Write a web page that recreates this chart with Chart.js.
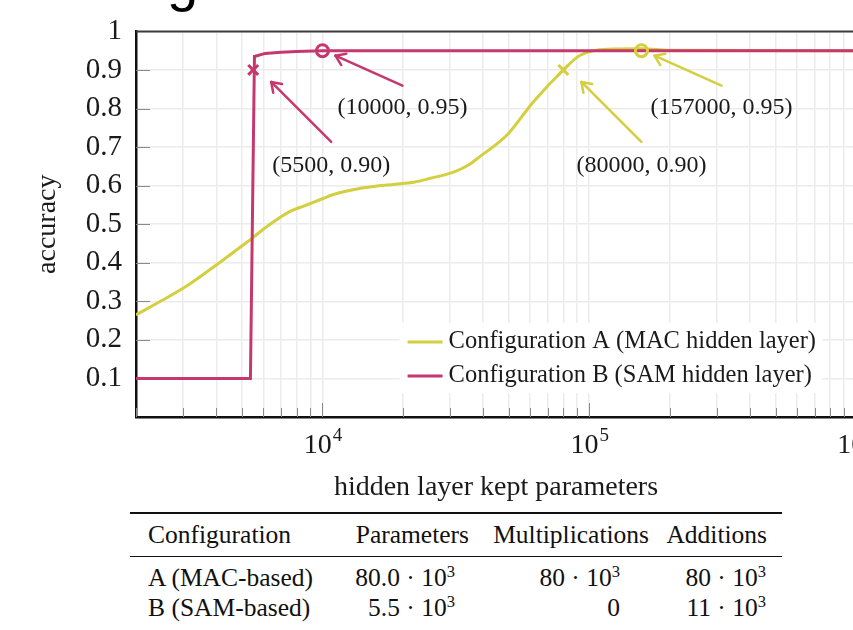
<!DOCTYPE html>
<html>
<head>
<meta charset="utf-8">
<script src="https://cdn.jsdelivr.net/npm/chart.js@4.4.1/dist/chart.umd.min.js"></script>
<style>
  html, body { margin: 0; padding: 0; background: #fff; overflow: hidden; width: 853px; height: 630px; }
  #cut { position: absolute; left: 167px; top: -47px; font: 56px/56px 'Liberation Sans', Arial, sans-serif; color: #000; }
  #box { position: absolute; left: 0; top: 0; width: 900px; height: 505px; }
  #tbl { position: absolute; left: 130px; top: 512px; width: 652px; border-collapse: collapse; table-layout: fixed;
         font-family: 'Liberation Serif', 'Times New Roman', serif; font-size: 25.5px; color: #111; }
  #tbl th { font-weight: normal; height: 42px; padding: 0; white-space: nowrap;
            border-top: 2.5px solid #111; border-bottom: 1px solid #111; }
  #tbl td { height: 30px; line-height: 30px; padding: 0; white-space: nowrap; vertical-align: bottom; }
  #tbl tbody tr:first-child td { height: 36px; }
  #tbl sup { font-size: 0.65em; line-height: 0; vertical-align: baseline; position: relative; top: -0.55em; }
  .c0 { text-align: left; padding-left: 18px !important; }
  th.c1 { text-align: right; padding-right: 6px !important; }
  td.c1 { text-align: right; padding-right: 20px !important; }
  th.c2 { text-align: right; padding-right: 6px !important; }
  td.c2 { text-align: right; padding-right: 35px !important; }
  th.c3 { text-align: right; padding-right: 15px !important; }
  td.c3 { text-align: right; padding-right: 16px !important; }
</style>
</head>
<body>
<div id="cut">g</div>
<div id="box"><canvas id="accChart"></canvas></div>
<table id="tbl">
  <colgroup><col style="width:205px"><col style="width:140px"><col style="width:180px"><col style="width:127px"></colgroup>
  <thead><tr id="thead"></tr></thead>
  <tbody id="tbody"></tbody>
</table>
<script>
// data
const xA = [2000, 2500, 3150, 4050, 5000, 5500, 6000, 7500, 8500, 10000, 11000, 13900, 19600, 22000, 25400, 31000, 35000, 39000, 49300, 61700, 80000, 92500, 116700, 157000, 200000, 1000000];
const yA = [0.265, 0.302, 0.343, 0.397, 0.444, 0.466, 0.487, 0.532, 0.547, 0.566, 0.577, 0.593, 0.605, 0.609, 0.619, 0.635, 0.652, 0.676, 0.732, 0.817, 0.900, 0.938, 0.954, 0.955, 0.951, 0.950];
const xB = [2000, 5370, 5560, 6100, 7000, 8000, 10000, 1000000];
const yB = [0.1, 0.1, 0.935, 0.943, 0.946, 0.948, 0.95, 0.95];
const markAx = [80000, 157000];
const markAy = [0.90, 0.95];
const markBx = [5500, 10000];
const markBy = [0.90, 0.95];
const seriesNames = ['Configuration A (MAC hidden layer)', 'Configuration B (SAM hidden layer)'];
const yTicks = [0, 0.1, 0.2, 0.3, 0.4, 0.5, 0.6, 0.7, 0.8, 0.9, 1];
const xMajor = [1e4, 1e5, 1e6];
const xRange = [2000, 1e6];

const tableHead = ['Configuration', 'Parameters', 'Multiplications', 'Additions'];
const tableConf = ['A (MAC-based)', 'B (SAM-based)'];
const tableParams = [80.0e3, 5.5e3];
const tableMults = [80e3, 0];
const tableAdds = [80e3, 11e3];

const SERIF = "'Liberation Serif', 'Times New Roman', serif";
const INK = '#1a1a1a';
const GRID = '#ececec';
const COLA = '#d4cf3e';
const COLB = '#c5386e';

const pts = (xs, ys) => xs.map((x, i) => ({x: x, y: ys[i]}));

// every 1..9 x 10^k between the axis limits (grid + minor ticks)
const xTickVals = [];
for (let d = 1000; d < xRange[1]; d *= 10) {
    for (let m = 1; m < 10; m++) {
        const v = m * d;
        if (v >= xRange[0] && v <= xRange[1]) xTickVals.push(v);
    }
}
xTickVals.push(xRange[1]);
const isMajor = v => xMajor.indexOf(v) >= 0;

// arrow / label offsets for the pins, by marker kind
const PIN = {
    crossRot: {tip: [18, 12], tail: [78, 72], label: [78, 96]},
    circle: {tip: [13, 5], tail: [80, 35], label: [80, 57]}
};

function line(ctx, x1, y1, x2, y2) {
    ctx.beginPath(); ctx.moveTo(x1, y1); ctx.lineTo(x2, y2); ctx.stroke();
}

const decor = {
    id: 'decor',
    beforeDatasetsDraw(chart) {
        const {ctx, chartArea: a, scales: {x, y}} = chart;
        ctx.save();
        ctx.strokeStyle = '#8a8a8a';
        ctx.lineWidth = 1;
        x.ticks.forEach(t => {
            const px = Math.round(x.getPixelForValue(t.value)) + 0.5;
            line(ctx, px, a.bottom, px, a.bottom - (isMajor(t.value) ? 14 : 9));
        });
        y.ticks.forEach(t => {
            if (t.value <= 0 || t.value >= 1) return;
            const py = Math.round(y.getPixelForValue(t.value)) + 0.5;
            line(ctx, a.left, py, a.left + 14, py);
        });
        // top frame
        ctx.strokeStyle = '#3c3c3c';
        ctx.lineWidth = 2;
        line(ctx, a.left, a.top, a.right, a.top);
        ctx.restore();
    },
    afterDatasetsDraw(chart) {
        const {ctx, chartArea: a, scales: {x, y}} = chart;
        ctx.save();

        // x tick labels 10^k
        ctx.fillStyle = INK;
        ctx.textBaseline = 'alphabetic';
        ctx.textAlign = 'left';
        xMajor.forEach(v => {
            const px = x.getPixelForValue(v);
            const exp = String(Math.round(Math.log10(v)));
            ctx.font = '28px ' + SERIF;
            const w1 = ctx.measureText('10').width;
            ctx.font = '19px ' + SERIF;
            const w2 = ctx.measureText(exp).width;
            const x0 = px - (w1 + w2) / 2;
            ctx.font = '28px ' + SERIF;
            ctx.fillText('10', x0, a.bottom + 36);
            ctx.font = '19px ' + SERIF;
            ctx.fillText(exp, x0 + w1 + 1, a.bottom + 24);
        });

        // pins: arrow + coordinate label
        [0, 1].forEach(di => {
            const ds = chart.data.datasets[di];
            ds.data.forEach((p, i) => {
                const o = PIN[ds.pointStyle[i]];
                const px = x.getPixelForValue(p.x), py = y.getPixelForValue(p.y);
                const tx = px + o.tip[0], ty = py + o.tip[1];
                const sx = px + o.tail[0], sy = py + o.tail[1];
                ctx.strokeStyle = ds.borderColor;
                ctx.lineWidth = 2.5;
                ctx.lineCap = 'round';
                line(ctx, sx, sy, tx, ty);
                const ang = Math.atan2(ty - sy, tx - sx);
                [0.6, -0.6].forEach(d => {
                    line(ctx, tx, ty, tx - 11 * Math.cos(ang + d), ty - 11 * Math.sin(ang + d));
                });
                ctx.fillStyle = INK;
                ctx.font = '24px ' + SERIF;
                ctx.textAlign = 'center';
                ctx.textBaseline = 'middle';
                ctx.fillText('(' + p.x + ', ' + p.y.toFixed(2) + ')', px + o.label[0], py + o.label[1]);
            });
        });

        // legend, lower right inside the axes
        ctx.font = '24.5px ' + SERIF;
        const tw = Math.max.apply(null, seriesNames.map(s => ctx.measureText(s).width));
        const bw = 8 + 35 + 6 + tw + 6, bh = 70;
        const bx = a.right - 34 - bw, by = a.bottom - 24 - bh;
        ctx.fillStyle = '#fff';
        ctx.fillRect(bx, by, bw, bh);
        [[COLA, seriesNames[0], 19], [COLB, seriesNames[1], 53]].forEach(r => {
            ctx.strokeStyle = r[0];
            ctx.lineWidth = 3;
            ctx.lineCap = 'butt';
            line(ctx, bx + 8, by + r[2], bx + 43, by + r[2]);
            ctx.fillStyle = INK;
            ctx.textAlign = 'left';
            ctx.textBaseline = 'middle';
            ctx.fillText(r[1], bx + 49, by + r[2]);
        });
        ctx.restore();
    }
};

const ctx = document.getElementById('accChart').getContext('2d');
new Chart(ctx, {
    type: 'line',
    data: {
        datasets: [{
            label: 'B marks',
            data: pts(markBx, markBy),
            showLine: false,
            borderColor: COLB,
            backgroundColor: 'rgba(0,0,0,0)',
            pointStyle: ['crossRot', 'circle'],
            pointRadius: [7, 6],
            pointBorderWidth: 3
        }, {
            label: 'A marks',
            data: pts(markAx, markAy),
            showLine: false,
            borderColor: COLA,
            backgroundColor: 'rgba(0,0,0,0)',
            pointStyle: ['crossRot', 'circle'],
            pointRadius: [7, 6],
            pointBorderWidth: 3
        }, {
            label: seriesNames[1],
            data: pts(xB, yB),
            borderColor: COLB,
            borderWidth: 3,
            pointRadius: 0,
            tension: 0
        }, {
            label: seriesNames[0],
            data: pts(xA, yA),
            borderColor: COLA,
            borderWidth: 3,
            pointRadius: 0,
            cubicInterpolationMode: 'monotone'
        }]
    },
    options: {
        responsive: true,
        maintainAspectRatio: false,
        animation: false,
        devicePixelRatio: 1,
        layout: { padding: { left: 0, top: 29, right: 44, bottom: 0 } },
        plugins: { legend: { display: false }, tooltip: { enabled: false } },
        scales: {
            x: {
                type: 'logarithmic',
                min: xRange[0],
                max: xRange[1],
                afterBuildTicks: s => { s.ticks = xTickVals.map(v => ({value: v})); },
                afterFit: s => { s.height = 88; },
                ticks: { display: false },
                grid: { color: GRID, lineWidth: 1.5, drawTicks: false },
                border: { color: '#111', width: 2.5 },
                title: {
                    display: true,
                    text: 'hidden layer kept parameters',
                    color: INK,
                    font: { family: SERIF, size: 28 },
                    padding: { top: 0, bottom: 1 }
                }
            },
            y: {
                min: 0,
                max: 1,
                afterBuildTicks: s => { s.ticks = yTicks.map(v => ({value: v})); },
                afterFit: s => { s.width = 136; },
                ticks: {
                    autoSkip: false,
                    padding: 14,
                    color: INK,
                    font: { family: SERIF, size: 29 },
                    callback: v => v === 0 ? '' : (v === 1 ? '1' : v.toFixed(1))
                },
                grid: { color: GRID, lineWidth: 1.5, drawTicks: false },
                border: { color: '#111', width: 2.5 },
                title: {
                    display: true,
                    text: 'accuracy',
                    color: INK,
                    font: { family: SERIF, size: 28 },
                    padding: { top: 31, bottom: 0 }
                }
            }
        }
    },
    plugins: [decor]
});

// table under the plot
const fmtK = (v, d) => v === 0 ? '0' : (v / 1000).toFixed(d) + ' · 10<sup>3</sup>';
document.getElementById('thead').innerHTML = tableHead.map((h, i) => '<th class="c' + i + '">' + h + '</th>').join('');
document.getElementById('tbody').innerHTML = tableConf.map((c, i) =>
    '<tr><td class="c0">' + c + '</td>' +
    '<td class="c1">' + fmtK(tableParams[i], 1) + '</td>' +
    '<td class="c2">' + fmtK(tableMults[i], 0) + '</td>' +
    '<td class="c3">' + fmtK(tableAdds[i], 0) + '</td></tr>'
).join('');
</script>
</body>
</html>
